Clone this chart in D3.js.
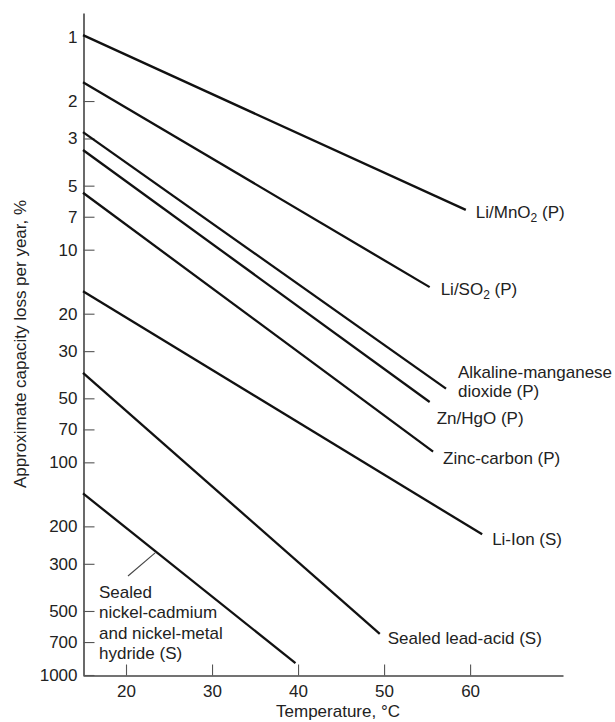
<!DOCTYPE html>
<html lang="en">
<head>
    <meta charset="UTF-8">
    <script src="https://d3js.org/d3.v7.min.js"></script>
    <title>Capacity loss vs temperature</title>
    <style>
        body { margin: 0; background: #fff; }
        text { font-family: "Liberation Sans", Arial, sans-serif; fill: #222; }
    </style>
</head>
<body>
<div id="chart"></div>

<script>
    // Battery systems (label parts: [text, isSubscript])
    const systems = [
        "Li/MnO2 (P)", "Li/SO2 (P)", "Alkaline-manganese dioxide (P)", "Zn/HgO (P)",
        "Zinc-carbon (P)", "Li-Ion (S)", "Sealed lead-acid (S)",
        "Sealed nickel-cadmium and nickel-metal hydride (S)"
    ];
    // Line endpoints: temperature (°C) and loss (% per year)
    const startTemp = [15, 15, 15, 15, 15, 15, 15, 15];
    const startLoss = [0.98, 1.63, 2.8, 3.4, 5.4, 15.7, 38, 140];
    const endTemp = [59.5, 55.3, 57.2, 55.3, 55.7, 61.4, 49.5, 39.7];
    const endLoss = [6.5, 15, 45, 52, 89, 218, 640, 880];

    const xTicks = [20, 30, 40, 50, 60];
    const yTicks = [1, 2, 3, 5, 7, 10, 20, 30, 50, 70, 100, 200, 300, 500, 700, 1000];

    const width = 615, height = 722;

    const svg = d3.select("#chart")
        .append("svg")
        .attr("width", width)
        .attr("height", height);

    const x = d3.scaleLinear().domain([15, 70.8]).range([83, 563]);
    const y = d3.scaleLog().domain([0.771, 1000]).range([13, 675]);

    // axes
    const xAxis = d3.axisBottom(x).tickValues(xTicks).tickFormat(d3.format("d"))
        .tickSizeInner(-11).tickSizeOuter(0).tickPadding(9);
    const yAxis = d3.axisLeft(y).tickValues(yTicks).tickFormat(d3.format("d"))
        .tickSizeInner(-11).tickSizeOuter(0).tickPadding(6);

    const gx = svg.append("g")
        .attr("transform", "translate(0,675.5)")
        .call(xAxis);
    const gy = svg.append("g")
        .attr("transform", "translate(83.5,0)")
        .call(yAxis);

    [gx, gy].forEach(g => {
        g.select(".domain").attr("stroke", "#444").attr("stroke-width", 1.6);
        g.selectAll(".tick line").attr("stroke", "#555").attr("stroke-width", 1.1);
        g.selectAll(".tick text")
            .attr("font-family", "'Liberation Sans', Arial, sans-serif")
            .attr("font-size", 17).attr("fill", "#222");
    });
    gy.selectAll(".tick").filter(d => d === 1).select("line").remove();

    // axis titles
    svg.append("text")
        .attr("x", 338).attr("y", 717)
        .attr("text-anchor", "middle")
        .attr("font-size", 17)
        .text("Temperature, \u00B0C");

    svg.append("text")
        .attr("transform", "translate(26,344) rotate(-90)")
        .attr("text-anchor", "middle")
        .attr("font-size", 17)
        .text("Approximate capacity loss per year, %");

    // lines
    const line = d3.line().x(d => x(d[0])).y(d => y(d[1]));
    const lineData = systems.map((s, i) => [[startTemp[i], startLoss[i]], [endTemp[i], endLoss[i]]]);

    svg.append("g")
        .selectAll("path")
        .data(lineData)
        .join("path")
        .attr("d", line)
        .attr("fill", "none")
        .attr("stroke", "#111")
        .attr("stroke-width", 2.3);

    // label layout: offset in pixels from the line end, and line breaks
    const labelLayout = [
        { dx: 10, dy: 2, lines: [[["Li/MnO", 0], ["2", 1], [" (P)", 0]]] },
        { dx: 11, dy: 2, lines: [[["Li/SO", 0], ["2", 1], [" (P)", 0]]] },
        { dx: 12, dy: -16.6, lines: [[["Alkaline-manganese", 0]], [["dioxide (P)", 0]]] },
        { dx: 7, dy: 16, lines: [[["Zn/HgO (P)", 0]]] },
        { dx: 10, dy: 6, lines: [[["Zinc-carbon (P)", 0]]] },
        { dx: 10, dy: 5, lines: [[["Li-Ion (S)", 0]]] },
        { dx: 8, dy: 4, lines: [[["Sealed lead-acid (S)", 0]]] }
    ];

    labelLayout.forEach((lab, i) => {
        const ex = x(endTemp[i]) + lab.dx;
        const ey = y(endLoss[i]) + lab.dy;
        const t = svg.append("text").attr("font-size", 17);
        lab.lines.forEach((parts, li) => {
            parts.forEach((p, pi) => {
                const ts = t.append("tspan").text(p[0]);
                if (pi === 0) ts.attr("x", ex).attr("y", ey + 6 + li * 19.5);
                if (p[1]) ts.attr("font-size", 12).attr("dy", 4);
                else if (pi > 0 && parts[pi - 1][1]) ts.attr("dy", -4);
            });
        });
    });

    // nickel-cadmium label with leader line
    const nicdLines = ["Sealed", "nickel-cadmium", "and nickel-metal", "hydride (S)"];
    const leaderT = 23.5;
    const leaderLoss = Math.exp(Math.log(startLoss[7]) +
        (leaderT - startTemp[7]) / (endTemp[7] - startTemp[7]) * (Math.log(endLoss[7]) - Math.log(startLoss[7])));
    svg.append("line")
        .attr("x1", x(leaderT) - 1).attr("y1", y(leaderLoss) + 1)
        .attr("x2", 128).attr("y2", 576)
        .attr("stroke", "#444").attr("stroke-width", 1.1);

    svg.append("text")
        .attr("font-size", 17)
        .selectAll("tspan")
        .data(nicdLines)
        .join("tspan")
        .attr("x", 99)
        .attr("y", (d, i) => 598 + i * 20.3)
        .text(d => d);
</script>

</body>
</html>
